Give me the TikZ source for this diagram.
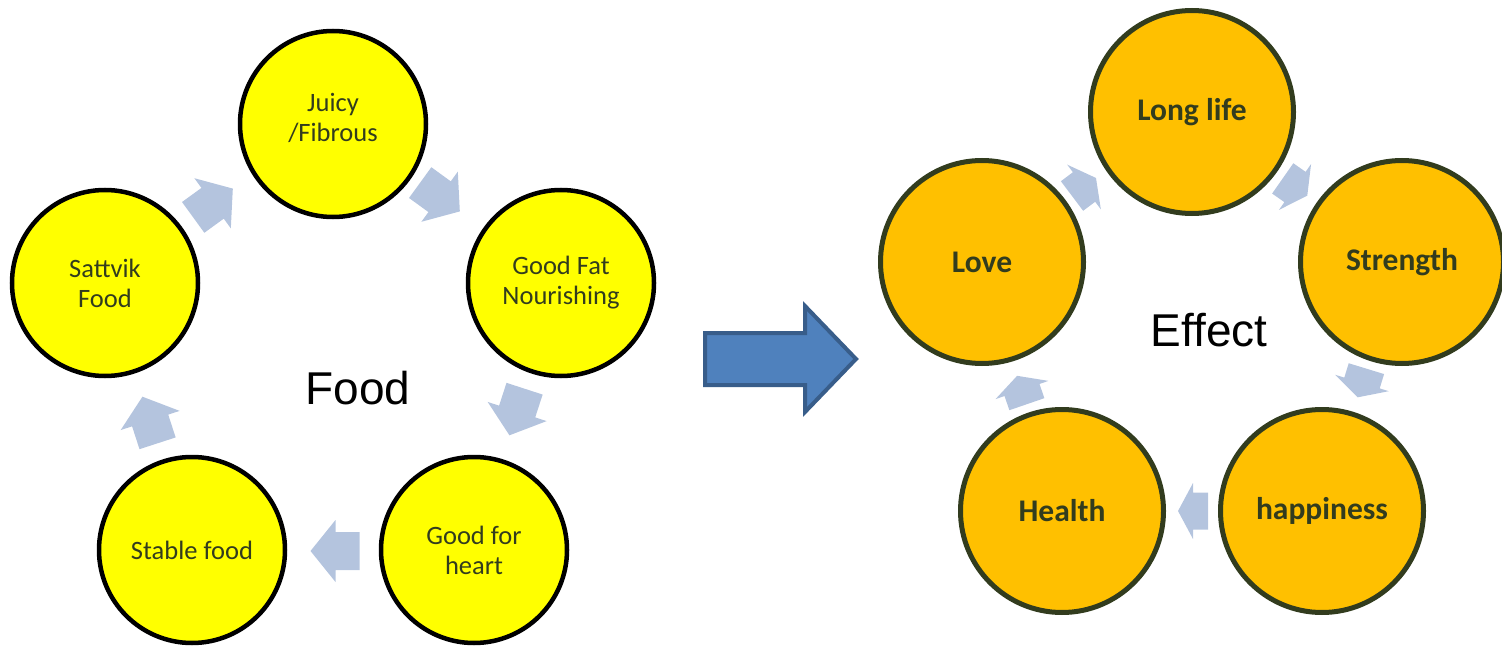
\documentclass[tikz,border=0pt]{standalone}
\usepackage{fontspec}
\setmainfont{Carlito}
\newfontfamily\arialf{Liberation Sans}
\definecolor{yel}{RGB}{255,255,0}
\definecolor{org}{RGB}{255,192,0}
\definecolor{olive}{RGB}{50,60,30}
\definecolor{arw}{RGB}{180,196,222}
\definecolor{bigf}{RGB}{79,129,189}
\definecolor{bigd}{RGB}{56,93,138}
\newcommand\blkarrow[7]{%
  \begin{scope}[shift={(#1,#2)},rotate=#3]
    \fill[arw] (-#4/2,-#7/2) -- (#4/2-#5,-#7/2) -- (#4/2-#5,-#6/2) -- (#4/2,0)
      -- (#4/2-#5,#6/2) -- (#4/2-#5,#7/2) -- (-#4/2,#7/2) -- cycle;
  \end{scope}}
\newcommand\lcyc[3]{\blkarrow{#1}{#2}{#3}{49}{25}{62}{38}}
\newcommand\rcyc[3]{\blkarrow{#1}{#2}{#3}{30}{15}{56}{37}}
\tikzset{
  foodc/.style={circle, draw=black, line width=4.5pt, fill=yel, minimum size=186pt,
    inner sep=0pt, align=center, text=olive, font=\fontsize{26.5}{30}\selectfont},
  effc/.style={circle, draw=olive, line width=5pt, fill=org, minimum size=203pt,
    inner sep=0pt, align=center, text=olive, font=\fontsize{31.5}{36}\selectfont\bfseries},
  bigtitle/.style={font=\arialf\fontsize{46}{50}\selectfont, text=black},
  lbl/.style={align=center, text=olive, font=\fontsize{26.5}{30}\selectfont}
}
\begin{document}
\begin{tikzpicture}[x=1pt,y=-1pt]
\useasboundingbox (0,0) rectangle (1502,647);
% left cycle
\node[foodc] (juicy) at (333,124) {};
\node[lbl] (juicyt) at (333,118) {Juicy\\/Fibrous};
\node[foodc] (fat) at (561,283) {Good Fat\\Nourishing};
\node[foodc] (heart) at (474,550) {Good for\\heart};
\node[foodc] (stable) at (192,550) {Stable food};
\node[foodc] (sattvik) at (105,283) {Sattvik\\Food};
\node[bigtitle] (food) at (358,388) {Food};
\lcyc{213}{203}{36}
\lcyc{440}{197}{-36}
\lcyc{517}{412}{-108}
\lcyc{335}{551}{180}
\lcyc{150}{420}{108}
% big arrow
\draw[bigd, line width=4pt, fill=bigf, line join=miter]
  (705,333) -- (805,333) -- (805,306) -- (856,359) -- (805,412) -- (805,385) -- (705,385) -- cycle;
% right cycle
\node[effc] (long) at (1192,112) {Long life};
\node[effc] (strength) at (1402,262) {Strength};
\node[effc] (happy) at (1322,511) {happiness};
\node[effc] (health) at (1062,511) {Health};
\node[effc] (love) at (982,262) {Love};
\node[bigtitle] (effect) at (1209,330) {Effect};
\rcyc{1084}{187}{37}
\rcyc{1295}{187}{-35}
\rcyc{1362}{383}{-107}
\rcyc{1193}{511}{180}
\rcyc{1022}{390}{109}
\end{tikzpicture}
\end{document}
